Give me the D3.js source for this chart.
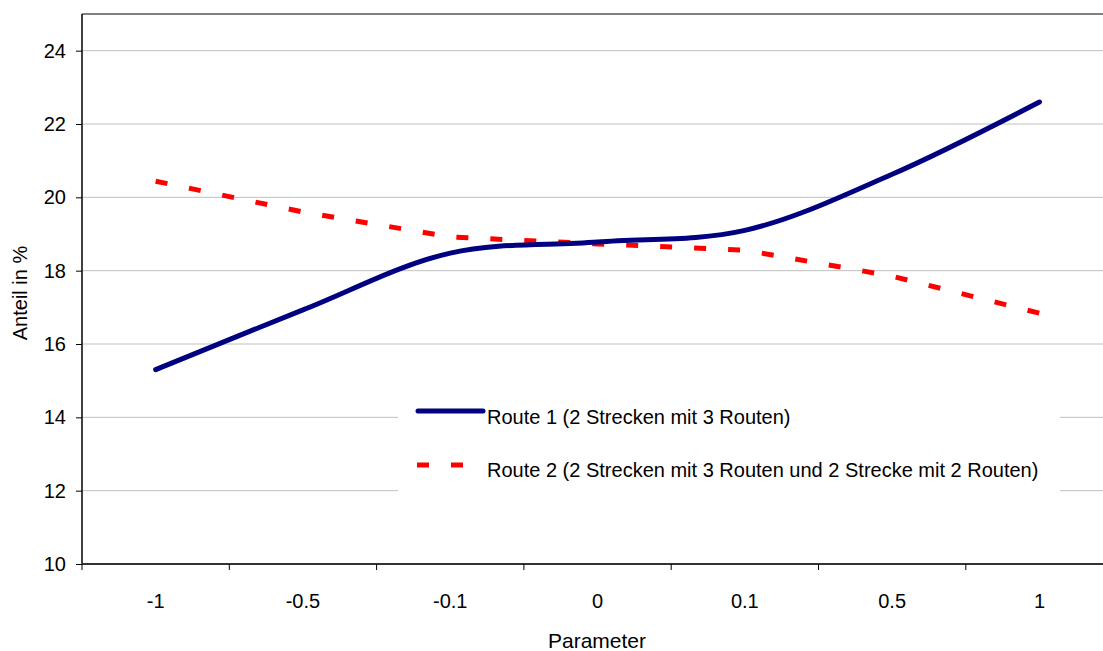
<!DOCTYPE html>
<html>
<head>
<meta charset="utf-8">
<script src="https://cdn.jsdelivr.net/npm/d3@7"></script>
<style>
  body { margin: 0; background: #fff; }
  text { font-family: Arial, "Liberation Sans", sans-serif; fill: #000; }
</style>
</head>
<body>
<svg id="chart" width="1103" height="651"></svg>
<script>
// data
const categories = ["-1", "-0.5", "-0.1", "0", "0.1", "0.5", "1"];
const route1 = [15.3, 16.93, 18.48, 18.78, 19.1, 20.63, 22.6];
const route2 = [20.44, 19.6, 18.92, 18.73, 18.56, 17.85, 16.84];
const yTicks = [10, 12, 14, 16, 18, 20, 22, 24];
const seriesNames = ["Route 1 (2 Strecken mit 3 Routen)", "Route 2 (2 Strecken mit 3 Routen und 2 Strecke mit 2 Routen)"];

const margin = {top: 14, left: 82};
const plotBottom = 564;
const step = 147.3;

const svg = d3.select("#chart");

const xScale = d3.scaleBand().domain(categories).range([margin.left, margin.left + step * categories.length]);
const yScale = d3.scaleLinear().domain([10, 25]).range([plotBottom, margin.top]);
const xMid = d => xScale(d) + xScale.bandwidth() / 2;

// gridlines
svg.append("g").selectAll("line")
  .data(yTicks.filter(t => t > 10))
  .join("line")
  .attr("x1", margin.left).attr("x2", 1103)
  .attr("y1", d => yScale(d)).attr("y2", d => yScale(d))
  .attr("stroke", "#c0c0c0").attr("stroke-width", 1);

// top frame
svg.append("line")
  .attr("x1", margin.left).attr("x2", 1103)
  .attr("y1", margin.top).attr("y2", margin.top)
  .attr("stroke", "#808080").attr("stroke-width", 2);

// y axis
const yAxis = d3.axisLeft(yScale).tickValues(yTicks).tickSize(6).tickPadding(10).tickSizeOuter(0);
const gy = svg.append("g").attr("transform", `translate(${margin.left},0)`).call(yAxis);
gy.select(".domain").attr("stroke", "#000").attr("stroke-width", 1.5)
  .attr("d", `M0,${margin.top}V${plotBottom}`);
gy.selectAll(".tick line").attr("stroke", "#000");
gy.selectAll(".tick text").style("font-size", "20px").style("font-family", "Arial, 'Liberation Sans', sans-serif");

// x axis: ticks at category boundaries, labels at centres
const bounds = categories.map(c => xScale(c)).concat([xScale.range()[1]]);
const gx = svg.append("g");
gx.append("line")
  .attr("x1", margin.left).attr("x2", 1103)
  .attr("y1", plotBottom).attr("y2", plotBottom)
  .attr("stroke", "#333").attr("stroke-width", 2);
gx.selectAll(".xt")
  .data(bounds)
  .join("line")
  .attr("class", "xt")
  .attr("x1", d => d).attr("x2", d => d)
  .attr("y1", plotBottom).attr("y2", plotBottom + 6)
  .attr("stroke", "#000");
gx.selectAll(".xl")
  .data(categories)
  .join("text")
  .attr("class", "xl")
  .attr("x", d => xMid(d))
  .attr("y", 608)
  .attr("text-anchor", "middle")
  .style("font-size", "20px")
  .text(d => d);

// axis titles
svg.append("text")
  .attr("x", 597).attr("y", 648)
  .attr("text-anchor", "middle")
  .style("font-size", "21px")
  .text("Parameter");
svg.append("text")
  .attr("transform", "translate(27,293) rotate(-90)")
  .attr("text-anchor", "middle")
  .style("font-size", "20px")
  .text("Anteil in %");

// lines
const line1 = d3.line().x((d, i) => xMid(categories[i])).y(d => yScale(d)).curve(d3.curveCatmullRom.alpha(0.5));
const line2 = d3.line().x((d, i) => xMid(categories[i])).y(d => yScale(d));

svg.append("path")
  .datum(route2)
  .attr("d", line2)
  .attr("fill", "none")
  .attr("stroke", "#ff0000")
  .attr("stroke-width", 5)
  .attr("stroke-dasharray", "12,22");

svg.append("path")
  .datum(route1)
  .attr("d", line1)
  .attr("fill", "none")
  .attr("stroke", "#000080")
  .attr("stroke-width", 5)
  .attr("stroke-linecap", "round")
  .attr("stroke-linejoin", "round");

// legend
const legend = svg.append("g");
legend.append("rect")
  .attr("x", 398).attr("y", 384).attr("width", 662).attr("height", 126)
  .attr("fill", "#fff");
legend.append("line")
  .attr("x1", 418).attr("x2", 483).attr("y1", 411).attr("y2", 411)
  .attr("stroke", "#000080").attr("stroke-width", 5).attr("stroke-linecap", "round");
legend.append("line")
  .attr("x1", 417).attr("x2", 463).attr("y1", 465).attr("y2", 465)
  .attr("stroke", "#ff0000").attr("stroke-width", 5).attr("stroke-dasharray", "12,22");
legend.selectAll(".lt")
  .data(seriesNames)
  .join("text")
  .attr("class", "lt")
  .attr("x", 487)
  .attr("y", (d, i) => i === 0 ? 424 : 477)
  .style("font-size", "20px")
  .text(d => d);
</script>
</body>
</html>
